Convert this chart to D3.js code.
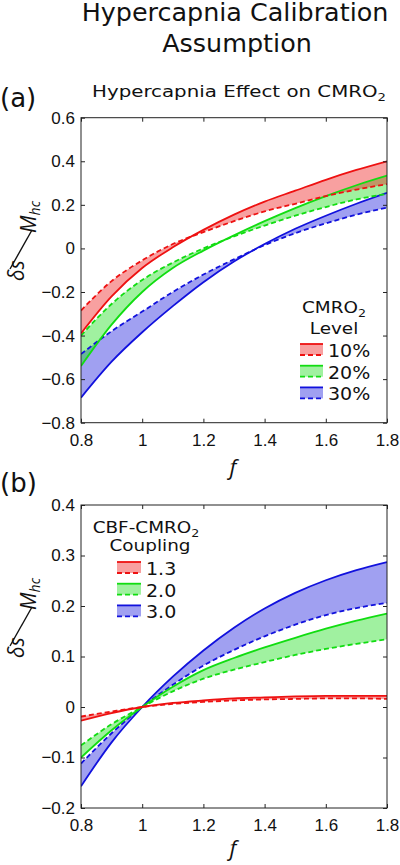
<!DOCTYPE html>
<html>
<head>
<meta charset="utf-8">
<script src="https://cdn.jsdelivr.net/npm/d3@7"></script>
<style>
  html, body { margin: 0; padding: 0; background: #fff; }
  svg { display: block; }
</style>
</head>
<body>
<script>
// ---------- data ----------
const fValues = [0.8, 0.9, 1.0, 1.1, 1.2, 1.3, 1.4, 1.5, 1.6, 1.7, 1.8];

// Panel (a): Hypercapnia effect on CMRO2 (solid / dashed bounds)
const aRedSolid    = [-0.39, -0.22, -0.09, 0.005, 0.085, 0.155, 0.215, 0.265, 0.315, 0.36, 0.40];
const aRedDashed   = [-0.285, -0.15, -0.055, 0.02, 0.075, 0.125, 0.17, 0.205, 0.24, 0.27, 0.295];
const aGreenSolid  = [-0.54, -0.35, -0.2, -0.09, -0.01, 0.06, 0.125, 0.185, 0.24, 0.29, 0.334];
const aGreenDashed = [-0.40, -0.255, -0.145, -0.065, 0.0, 0.055, 0.105, 0.15, 0.19, 0.225, 0.25];
const aBlueSolid   = [-0.685, -0.52, -0.385, -0.265, -0.155, -0.06, 0.02, 0.09, 0.15, 0.205, 0.255];
const aBlueDashed  = [-0.485, -0.38, -0.29, -0.2, -0.12, -0.05, 0.015, 0.07, 0.115, 0.155, 0.187];
const aLegendLabels = ["10%", "20%", "30%"];

// Panel (b): CBF-CMRO2 coupling
const bRedSolid    = [-0.027, -0.012, 0, 0.008, 0.013, 0.017, 0.019, 0.021, 0.022, 0.022, 0.022];
const bRedDashed   = [-0.019, -0.009, 0, 0.006, 0.010, 0.013, 0.015, 0.016, 0.017, 0.017, 0.016];
const bGreenSolid  = [-0.10, -0.046, 0, 0.04, 0.073, 0.097, 0.118, 0.137, 0.155, 0.171, 0.185];
const bGreenDashed = [-0.076, -0.034, 0, 0.031, 0.056, 0.074, 0.089, 0.103, 0.115, 0.125, 0.134];
const bBlueSolid   = [-0.157, -0.07, 0, 0.06, 0.112, 0.157, 0.195, 0.226, 0.251, 0.271, 0.287];
const bBlueDashed  = [-0.112, -0.052, 0, 0.044, 0.082, 0.113, 0.14, 0.163, 0.182, 0.196, 0.206];
const bLegendLabels = ["1.3", "2.0", "3.0"];

const legendColors = ["red", "green", "blue"];

// ticks
const xTicks  = [0.8, 1, 1.2, 1.4, 1.6, 1.8];
const aYTicks = [-0.8, -0.6, -0.4, -0.2, 0, 0.2, 0.4, 0.6];
const bYTicks = [-0.2, -0.1, 0, 0.1, 0.2, 0.3, 0.4];

// ---------- style ----------
const colors = { red: "#ee1111", green: "#11dd11", blue: "#1111dd" };
const FONT = "DejaVu Sans, sans-serif";
const TICKFONT = "Liberation Sans, Arial, sans-serif";
const W = 400, H = 865;

const svg = d3.select("body").append("svg").attr("width", W).attr("height", H);

function sText(x, y, str, size, anchor, sx) {
  return svg.append("text")
    .attr("transform", `translate(${x},${y}) scale(${sx || 1},1)`)
    .attr("text-anchor", anchor || "middle")
    .attr("font-family", FONT)
    .attr("font-size", size)
    .attr("fill", "#111")
    .text(str);
}

// titles
sText(235, 21, "Hypercapnia Calibration", 24, "middle", 1.06);
sText(237, 52, "Assumption", 24, "middle", 1.06);
sText(0, 107, "(a)", 26, "start", 1.0);
sText(0, 492, "(b)", 26, "start", 1.0);
{
  const t = sText(239, 97, "Hypercapnia Effect on CMRO", 16.5, "middle", 1.2);
  t.append("tspan").attr("font-size", 11).attr("dy", 4).text("2");
}

function panel(cfg) {
  const L = 81, R = 387;
  const x = d3.scaleLinear().domain([0.8, 1.8]).range([L, R]);
  const y = d3.scaleLinear().domain(cfg.yDomain).range([cfg.bottom, cfg.top]);
  const g = svg.append("g");
  const clipId = "clip" + cfg.id;
  svg.append("clipPath").attr("id", clipId)
    .append("rect").attr("x", L).attr("y", cfg.top).attr("width", R - L).attr("height", cfg.bottom - cfg.top);

  const plot = g.append("g").attr("clip-path", `url(#${clipId})`);
  const area = d3.area().x((d, i) => x(fValues[i])).y0(d => y(d[0])).y1(d => y(d[1])).curve(d3.curveMonotoneX);
  const line = d3.line().x((d, i) => x(fValues[i])).y(d => y(d)).curve(d3.curveMonotoneX);

  cfg.series.forEach(s => {
    plot.append("path")
      .datum(s.solid.map((v, i) => [v, s.dashed[i]]))
      .attr("d", area)
      .attr("fill", colors[s.color]).attr("fill-opacity", 0.4).attr("stroke", "none");
  });
  cfg.series.forEach(s => {
    plot.append("path").datum(s.dashed).attr("d", line)
      .attr("fill", "none").attr("stroke", colors[s.color]).attr("stroke-width", 1.8)
      .attr("stroke-dasharray", "5,3");
    plot.append("path").datum(s.solid).attr("d", line)
      .attr("fill", "none").attr("stroke", colors[s.color]).attr("stroke-width", 1.8);
  });

  // axes with inward ticks
  const fmt = d3.format("~g");
  const yl = g.append("g").attr("transform", `translate(${L},0)`)
    .call(d3.axisLeft(y).tickValues(cfg.yTicks).tickFormat(fmt).tickSizeInner(-4).tickSizeOuter(0).tickPadding(6));
  const yr = g.append("g").attr("transform", `translate(${R},0)`)
    .call(d3.axisRight(y).tickValues(cfg.yTicks).tickFormat("").tickSizeInner(-4).tickSizeOuter(0));
  const xb = g.append("g").attr("transform", `translate(0,${cfg.bottom})`)
    .call(d3.axisBottom(x).tickValues(xTicks).tickFormat(fmt).tickSizeInner(-4).tickSizeOuter(0).tickPadding(11));
  const xt = g.append("g").attr("transform", `translate(0,${cfg.top})`)
    .call(d3.axisTop(x).tickValues(xTicks).tickFormat("").tickSizeInner(-4).tickSizeOuter(0));
  [yl, yr, xb, xt].forEach(a => {
    a.select(".domain").remove();
    a.selectAll("line").attr("stroke", "#222");
    a.selectAll("text").attr("font-family", TICKFONT).attr("font-size", 17).attr("fill", "#111");
  });
  g.append("rect").attr("x", L).attr("y", cfg.top).attr("width", R - L).attr("height", cfg.bottom - cfg.top)
    .attr("fill", "none").attr("stroke", "#222").attr("stroke-width", 1);

  // x label
  svg.append("text").attr("x", 233).attr("y", cfg.xLabelY)
    .attr("text-anchor", "middle").attr("font-family", "Open Sans, sans-serif")
    .attr("font-style", "italic").attr("font-size", 22).attr("fill", "#111").text("f");

  // y label  δs / M_hc (nicefrac style), rotated
  const cy = cfg.yLabelCenter, cx = 24;
  const yg = svg.append("g").attr("transform", `translate(${cx},${cy}) rotate(-90)`)
    .attr("font-family", "Open Sans, sans-serif").attr("fill", "#111");
  yg.append("text").attr("x", -40).attr("y", 0).attr("font-size", 21).attr("font-style", "italic").text("δs");
  const mt = yg.append("text").attr("x", 8).attr("y", 12).attr("font-size", 21).attr("font-style", "italic").text("M");
  mt.append("tspan").attr("font-size", 14).attr("dy", 4).text("hc");
  svg.append("line").attr("x1", cx - 14).attr("y1", cy + 28).attr("x2", cx + 8).attr("y2", cy - 11)
    .attr("stroke", "#111").attr("stroke-width", 1.4);

  // legend
  const lg = cfg.legend;
  const t1 = sText(lg.titleX, lg.title1Y, lg.title1, 16, "middle", 1.15);
  t1.append("tspan").attr("font-size", 11).attr("dy", 4).text("2");
  sText(lg.titleX + (lg.title2dx || 0), lg.title2Y, lg.title2, 16, "middle", 1.15);
  legendColors.forEach((c, i) => {
    const yy = lg.rowY + i * lg.rowStep;
    svg.append("rect").attr("x", lg.swX).attr("y", yy).attr("width", lg.swW).attr("height", 11)
      .attr("fill", colors[c]).attr("fill-opacity", 0.4);
    svg.append("line").attr("x1", lg.swX).attr("x2", lg.swX + lg.swW).attr("y1", yy).attr("y2", yy)
      .attr("stroke", colors[c]).attr("stroke-width", 1.8);
    svg.append("line").attr("x1", lg.swX).attr("x2", lg.swX + lg.swW).attr("y1", yy + 11).attr("y2", yy + 11)
      .attr("stroke", colors[c]).attr("stroke-width", 1.8).attr("stroke-dasharray", "5,3");
    sText(lg.swX + lg.swW + 5, yy + 13, lg.labels[i], 17, "start", 1.12);
  });
}

panel({
  id: "a", top: 117.7, bottom: 422.7, yDomain: [-0.8, 0.6], yTicks: aYTicks, yLabelCenter: 241, xLabelY: 475,
  series: [
    { color: "blue", solid: aBlueSolid, dashed: aBlueDashed },
    { color: "green", solid: aGreenSolid, dashed: aGreenDashed },
    { color: "red", solid: aRedSolid, dashed: aRedDashed }
  ],
  legend: { titleX: 334, title1Y: 313, title1: "CMRO", title2Y: 334, title2: "Level",
            rowY: 344, rowStep: 21.7, swX: 300, swW: 23, labels: aLegendLabels }
});

panel({
  id: "b", top: 505, bottom: 808, yDomain: [-0.2, 0.4], yTicks: bYTicks, yLabelCenter: 618, xLabelY: 856,
  series: [
    { color: "blue", solid: bBlueSolid, dashed: bBlueDashed },
    { color: "green", solid: bGreenSolid, dashed: bGreenDashed },
    { color: "red", solid: bRedSolid, dashed: bRedDashed }
  ],
  legend: { titleX: 146, title1Y: 533, title1: "CBF-CMRO", title2Y: 551, title2: "Coupling", title2dx: 4,
            rowY: 562, rowStep: 21.7, swX: 117, swW: 24, labels: bLegendLabels }
});
</script>
</body>
</html>
